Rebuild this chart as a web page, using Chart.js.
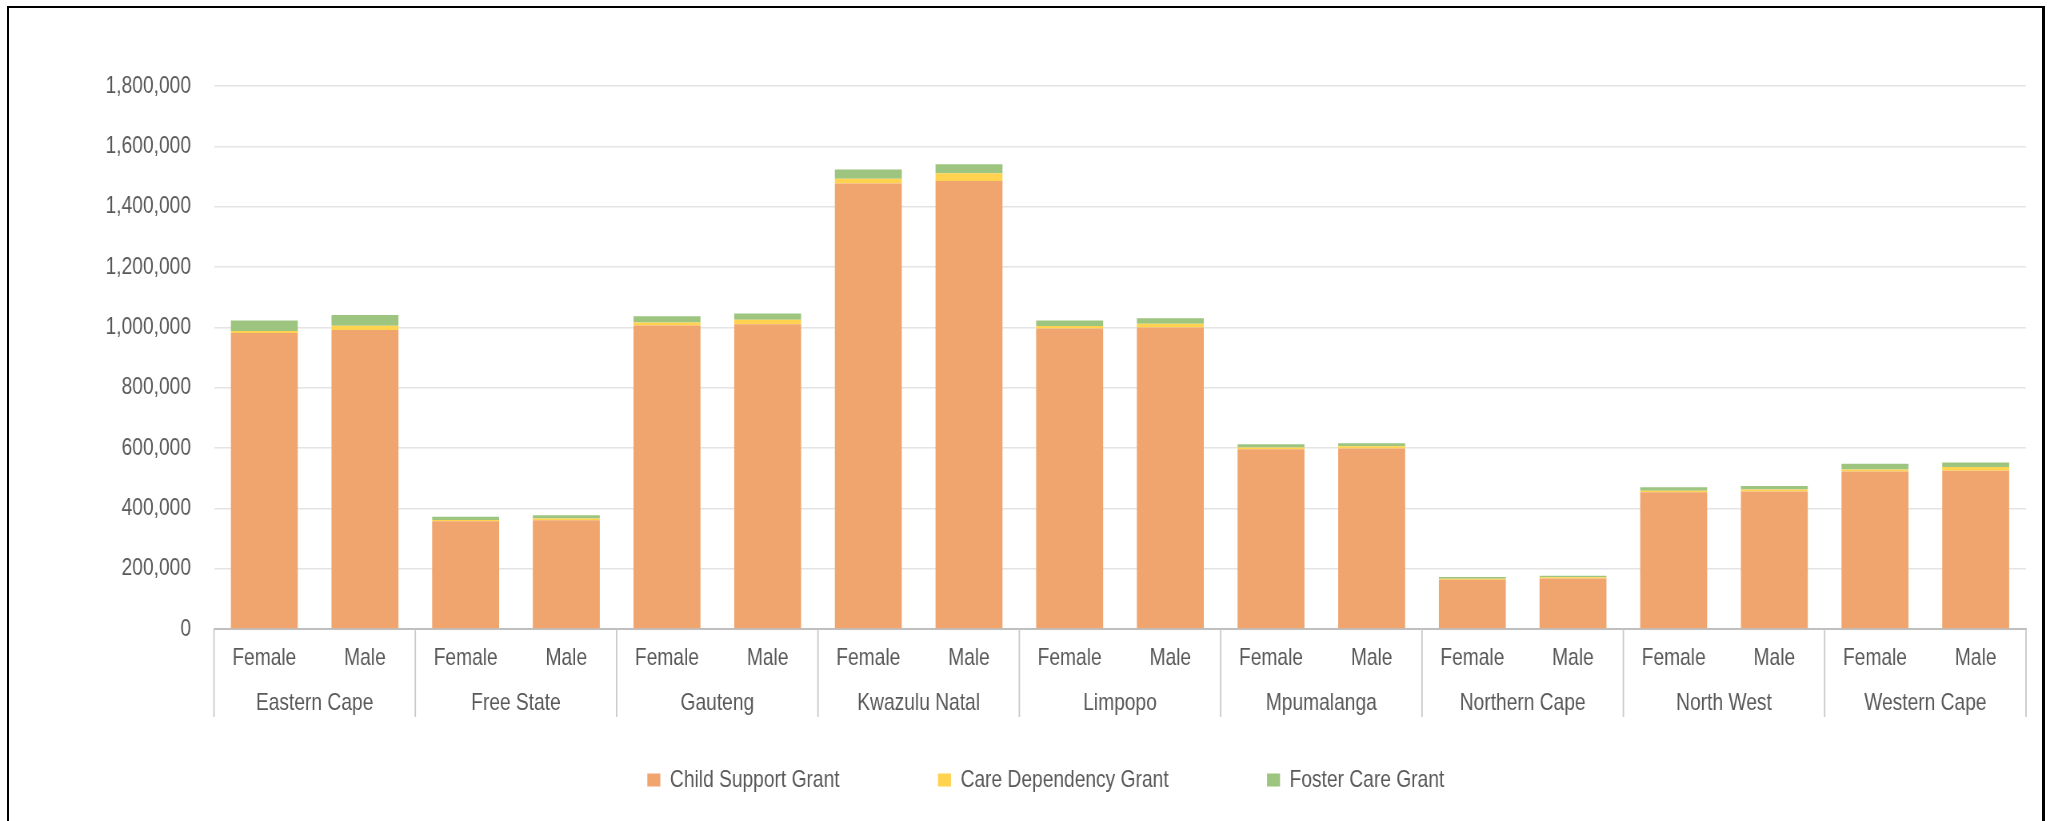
<!DOCTYPE html>
<html>
<head>
<meta charset="utf-8">
<script src="https://cdn.jsdelivr.net/npm/chart.js@4.4.1/dist/chart.umd.min.js"></script>
<style>
  html, body { margin: 0; padding: 0; background: #fff; overflow: hidden; }
  #grantChart { position: absolute; left: 0; top: 0; }
  #frame { position: absolute; left: 7px; top: 6px; width: 2033px; height: 840px;
           border: 2px solid #000; border-right-width: 3px; pointer-events: none; }
</style>
</head>
<body>
<!-- canvas is drawn 1.25x wider than shown, so the text comes out narrow like the original -->
<canvas id="grantChart" width="2568" height="821" style="width:2054px;height:821px"></canvas>
<div id="frame"></div>
<script>
// provinces and genders (two-level category axis)
const provinces = ['Eastern Cape', 'Free State', 'Gauteng', 'Kwazulu Natal', 'Limpopo',
  'Mpumalanga', 'Northern Cape', 'North West', 'Western Cape'];
const genders = ['Female', 'Male'];

// values per bar, Female then Male for each province
const childSupport = [981000, 991000, 357000, 360500, 1006000, 1010500, 1477000, 1485000,
  996000, 999500, 596000, 598000, 163500, 167000, 453000, 455500, 522000, 525000];
const careDependency = [6600, 14300, 4400, 5500, 10000, 14400, 15500, 25400,
  8800, 12200, 5300, 7700, 3300, 4400, 5500, 6600, 6600, 12200];
const fosterCare = [35000, 35400, 11000, 11000, 21000, 21000, 31000, 30000,
  17700, 18800, 11000, 10000, 5500, 5500, 11000, 12200, 18800, 14400];

const barLabels = provinces.flatMap(() => genders);

const SX = 1.25; // horizontal squeeze of the canvas
const FONT = "'Liberation Sans', Arial, sans-serif";
const TEXT = '#595959';

// vertical separators between province groups, under the axis line
const groupLines = {
  id: 'groupLines',
  afterDraw(chart) {
    const xs = chart.scales.x;
    const ctx = chart.ctx;
    const edges = [xs.left];
    for (let i = 1; i < provinces.length; i++) {
      edges.push((xs.getPixelForValue(i * 2 - 1) + xs.getPixelForValue(i * 2)) / 2);
    }
    edges.push(xs.right);
    ctx.save();
    ctx.strokeStyle = '#c9c9c9';
    ctx.lineWidth = 1.8;
    edges.forEach(x => {
      ctx.beginPath();
      ctx.moveTo(x, xs.top);
      ctx.lineTo(x, xs.top + 88);
      ctx.stroke();
    });
    ctx.restore();
  }
};

const ctx = document.getElementById('grantChart').getContext('2d');
new Chart(ctx, {
  type: 'bar',
  data: {
    labels: barLabels,
    datasets: [
      { label: 'Child Support Grant', data: childSupport, backgroundColor: '#F0A46E' },
      { label: 'Care Dependency Grant', data: careDependency, backgroundColor: '#FFD24F' },
      { label: 'Foster Care Grant', data: fosterCare, backgroundColor: '#9DC57F' }
    ]
  },
  options: {
    responsive: false,
    devicePixelRatio: 1,
    animation: false,
    layout: { padding: { top: 86, right: 28 * SX, bottom: 19, left: 82 } },
    datasets: {
      bar: { barPercentage: 0.665, categoryPercentage: 1, borderWidth: 0 }
    },
    scales: {
      x: {
        stacked: true,
        weight: 0,
        grid: { display: false, drawTicks: false },
        border: { color: '#bfbfbf', width: 2 },
        ticks: { color: TEXT, font: { family: FONT, size: 24 }, padding: 14.5, maxRotation: 0 },
        afterFit(scale) { scale.height = 45; }
      },
      x2: {
        type: 'category',
        labels: provinces,
        position: 'bottom',
        offset: true,
        weight: 1,
        grid: { display: false, drawTicks: false },
        border: { display: false },
        ticks: { color: TEXT, font: { family: FONT, size: 24 }, padding: 14.5, maxRotation: 0 },
        afterFit(scale) { scale.height = 43; }
      },
      y: {
        stacked: true,
        min: 0,
        max: 1800000,
        grid: { color: '#e4e4e4', lineWidth: 1.5, drawTicks: false },
        border: { display: false },
        ticks: {
          stepSize: 200000,
          padding: 23 * SX,
          color: TEXT,
          font: { family: FONT, size: 24 },
          callback: v => v.toLocaleString('en-US')
        },
        afterFit(scale) { scale.width = 214 * SX - 82; }
      }
    },
    plugins: {
      legend: {
        position: 'bottom',
        labels: {
          boxWidth: 13 * SX,
          boxHeight: 13,
          padding: 51,
          color: TEXT,
          font: { family: FONT, size: 24 },
          // extra gap between legend entries (padding also sets the height)
          generateLabels(chart) {
            const items = Chart.defaults.plugins.legend.labels.generateLabels(chart);
            items.forEach((it, i) => {
              if (i < items.length - 1) it.text += '\u2002'.repeat(6);
            });
            return items;
          }
        }
      },
      tooltip: { enabled: false }
    }
  },
  plugins: [groupLines]
});
</script>
</body>
</html>
